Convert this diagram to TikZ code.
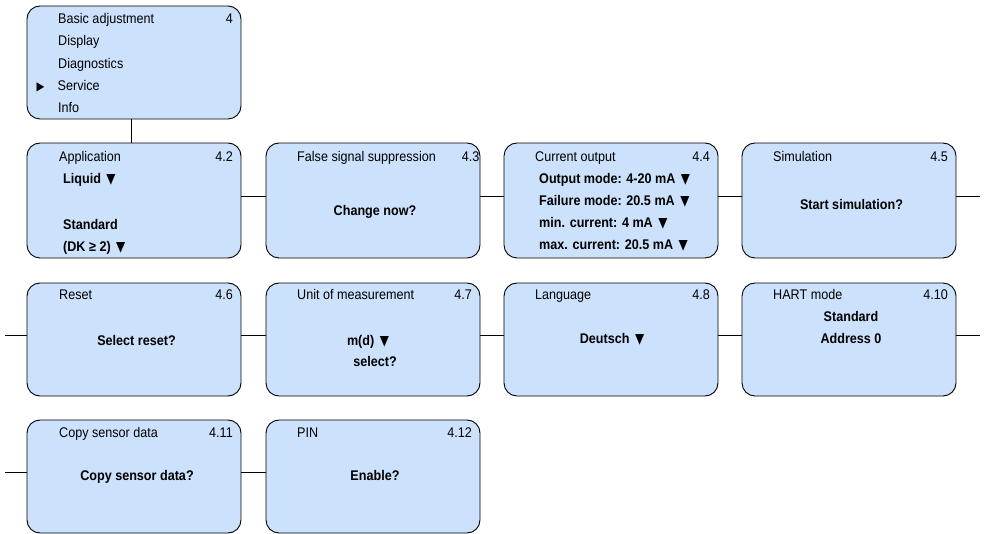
\documentclass[tikz,border=0pt]{standalone}
\usepackage{fontspec}
\setmainfont{Liberation Sans}[FakeStretch=0.9]
\newfontfamily\symfont{DejaVu Sans}[FakeStretch=0.85]
\definecolor{boxblue}{RGB}{204,225,252}
\tikzset{
 menubox/.style={draw=black, line width=0.9pt, fill=boxblue, rounded corners=13pt,
   minimum width=214pt, anchor=north west, inner sep=0pt, outer sep=0pt},
 lbl/.style={inner sep=0pt, font=\fontsize{14}{16}\selectfont},
 ttl/.style={lbl, anchor=base west},
 num/.style={lbl, anchor=base east},
 val/.style={lbl, anchor=base west, font=\fontsize{14}{16}\selectfont\bfseries},
 valc/.style={lbl, anchor=base, font=\fontsize{14}{16}\selectfont\bfseries},
 link/.style={draw=black, line width=1pt},
}
\newcommand{\dtri}{\hspace{2pt}{\symfont\fontsize{14}{16}\selectfont ▼}}
\begin{document}
\begin{tikzpicture}[x=1pt,y=-1pt]
\useasboundingbox (0,0) rectangle (985,534);
% boxes
\node[menubox, minimum height=113pt] (m4) at (27,6) {};
\node[menubox, minimum height=115pt] (b42) at (27,143) {};
\node[menubox, minimum height=115pt] (b43) at (266,143) {};
\node[menubox, minimum height=115pt] (b44) at (504,143) {};
\node[menubox, minimum height=115pt] (b45) at (742,143) {};
\node[menubox, minimum height=113pt] (b46) at (27,283) {};
\node[menubox, minimum height=113pt] (b47) at (266,283) {};
\node[menubox, minimum height=113pt] (b48) at (504,283) {};
\node[menubox, minimum height=113pt] (b410) at (742,283) {};
\node[menubox, minimum height=113pt] (b411) at (27,420) {};
\node[menubox, minimum height=113pt] (b412) at (266,420) {};
% top menu
\node[ttl] (t1) at (58,24) {Basic adjustment};
\node[num] (t1n) at (233,24) {4};
\node[ttl] (t2) at (58,46) {Display};
\node[ttl] (t3) at (58,68.5) {Diagnostics};
\node[inner sep=0pt, anchor=base west, font=\fontsize{12}{14}\selectfont] (tarr) at (36.5,91) {\symfont ▶};
\node[ttl] (t4) at (57.5,91) {Service};
\node[ttl] (t5) at (58,113) {Info};
% 4.2
\node[ttl] (a1) at (59,162) {Application};
\node[num] (a2) at (233,162) {4.2};
\node[val] (a3) at (63,184) {Liquid \dtri};
\node[val] (a4) at (63,230) {Standard};
\node[val] (a5) at (63,252) {(DK ≥ 2) \dtri};
% 4.3
\node[ttl] (c1) at (297,162) {False signal suppression};
\node[num] (c2) at (479.5,162) {4.3};
\node[valc] (c3) at (375,216) {Change now?};
% 4.4
\node[ttl] (d1) at (535,162) {Current output};
\node[num] (d2) at (710,162) {4.4};
\node[val] (d3) at (539,184) {Output mode: 4-20 mA \dtri};
\node[val] (d4) at (539,206) {Failure mode: 20.5 mA \dtri};
\node[val] (d5) at (539,228) {min. current: 4 mA \dtri};
\node[val] (d6) at (539,250) {max. current: 20.5 mA \dtri};
% 4.5
\node[ttl] (e1) at (773,162) {Simulation};
\node[num] (e2) at (948,162) {4.5};
\node[valc] (e3) at (851.5,209.5) {Start simulation?};
% 4.6
\node[ttl] (f1) at (59,299.5) {Reset};
\node[num] (f2) at (233,299.5) {4.6};
\node[valc] (f3) at (136.5,346) {Select reset?};
% 4.7
\node[ttl] (g1) at (297,299.5) {Unit of measurement};
\node[num] (g2) at (472,299.5) {4.7};
\node[valc] (g3) at (368,345.5) {m(d) \dtri};
\node[valc] (g4) at (375,366.5) {select?};
% 4.8
\node[ttl] (h1) at (535,300) {Language};
\node[num] (h2) at (710,300) {4.8};
\node[valc] (h3) at (612,344) {Deutsch \dtri};
% 4.10
\node[ttl] (i1) at (773,300) {HART mode};
\node[num] (i2) at (948,300) {4.10};
\node[valc] (i3) at (851,322) {Standard};
\node[valc] (i4) at (851,344) {Address 0};
% 4.11
\node[ttl] (j1) at (59,437.5) {Copy sensor data};
\node[num] (j2) at (233,437.5) {4.11};
\node[valc] (j3) at (137,480) {Copy sensor data?};
% 4.12
\node[ttl] (k1) at (297,437.5) {PIN};
\node[num] (k2) at (472,437.5) {4.12};
\node[valc] (k3) at (375,480) {Enable?};
% connectors
\coordinate (r1end) at (980,196.5);
\coordinate (r2start) at (5,335.5);
\coordinate (r2end) at (980,335.5);
\coordinate (r3start) at (5,472.5);
\draw[link] ([xshift=-3pt]m4.south) -- ([xshift=-3pt]m4.south |- b42.north);
\draw[link] ([yshift=4pt]b42.east) -- ([yshift=4pt]b43.west);
\draw[link] ([yshift=4pt]b43.east) -- ([yshift=4pt]b44.west);
\draw[link] ([yshift=4pt]b44.east) -- ([yshift=4pt]b45.west);
\draw[link] ([yshift=4pt]b45.east) -- (r1end);
\draw[link] (r2start) -- ([yshift=4pt]b46.west);
\draw[link] ([yshift=4pt]b46.east) -- ([yshift=4pt]b47.west);
\draw[link] ([yshift=4pt]b47.east) -- ([yshift=4pt]b48.west);
\draw[link] ([yshift=4pt]b48.east) -- ([yshift=4pt]b410.west);
\draw[link] ([yshift=4pt]b410.east) -- (r2end);
\draw[link] (r3start) -- ([yshift=4pt]b411.west);
\draw[link] ([yshift=4pt]b411.east) -- ([yshift=4pt]b412.west);
\end{tikzpicture}
\end{document}
